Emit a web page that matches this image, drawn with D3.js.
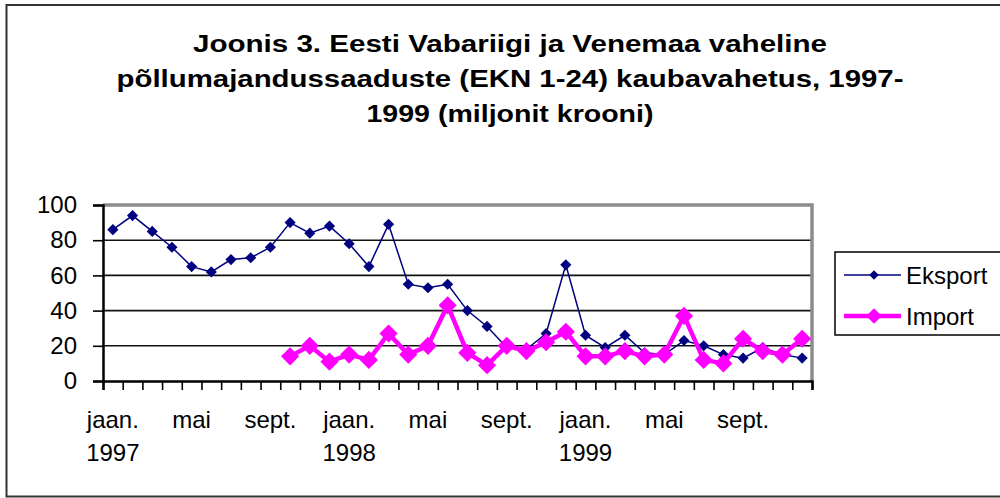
<!DOCTYPE html>
<html>
<head>
<meta charset="utf-8">
<script src="https://cdn.jsdelivr.net/npm/d3@7"></script>
<style>
  body { margin: 0; background: #fff; }
  svg { display: block; font-family: "Liberation Sans", Arial, sans-serif; }
</style>
</head>
<body>
<svg id="chart" width="1000" height="498"></svg>
<script>
// title lines
var titleLines = [
  "Joonis 3. Eesti Vabariigi ja Venemaa vaheline",
  "põllumajandussaaduste (EKN 1-24) kaubavahetus, 1997-",
  "1999 (miljonit krooni)"
];
var titleWidths = [634, 787, 287];

var years = ["1997", "1998", "1999"];
var months = ["jaan.", "veebr.", "märts", "apr.", "mai", "juuni", "juuli", "aug.", "sept.", "okt.", "nov.", "dets."];
var shownMonths = ["jaan.", "mai", "sept."];
var yTicks = [0, 20, 40, 60, 80, 100];

var seriesNames = ["Eksport", "Import"];
var eksport = [86, 94, 85, 76, 65, 62, 69, 70, 76, 90, 84, 88,
               78, 65, 89, 55, 53, 55, 40, 31, 19, 18, 27, 66,
               26, 19, 26, 16, 15, 23, 20, 15, 13, 19, 15, 13];
var importVals = [null, null, null, null, null, null, null, null, null, 14, 20, 11,
                  15, 12, 27, 15, 20, 43, 16, 9, 20, 17, 22, 28,
                  14, 14, 17, 14, 15, 37, 12, 10, 24, 17, 15, 24];

var categories = [];
years.forEach(function(yr) {
  months.forEach(function(m) { categories.push(yr + " " + m); });
});

var svg = d3.select("#chart");

// chart area border
svg.append("rect")
  .attr("x", 6.5).attr("y", 5)
  .attr("width", 1010).attr("height", 491.5)
  .attr("fill", "#fff")
  .attr("stroke", "#333")
  .attr("stroke-width", 2);

// title
svg.append("g").selectAll("text").data(titleLines).enter().append("text")
  .attr("x", 510)
  .attr("y", (d, i) => 51.5 + i * 35)
  .attr("text-anchor", "middle")
  .attr("font-size", "23px")
  .attr("font-weight", "bold")
  .attr("textLength", (d, i) => titleWidths[i])
  .attr("lengthAdjust", "spacingAndGlyphs")
  .attr("fill", "#000")
  .text(d => d);

var plotL = 103, plotR = 812, plotT = 205, plotB = 381;

var x = d3.scaleBand().domain(categories).range([plotL, plotR]).paddingInner(0).paddingOuter(0);
var xEdge = d3.scaleLinear().domain([0, categories.length]).range([plotL, plotR]);
var y = d3.scaleLinear().domain([0, 100]).range([plotB, plotT]);

// gridlines
svg.append("g").selectAll("line").data(yTicks.filter(d => d > 0 && d < 100)).enter().append("line")
  .attr("x1", plotL).attr("x2", plotR)
  .attr("y1", d => y(d)).attr("y2", d => y(d))
  .attr("stroke", "#111")
  .attr("stroke-width", 1.6);

// plot border (grey top & right)
svg.append("path")
  .attr("d", "M" + plotL + "," + plotT + "H" + plotR + "V" + plotB)
  .attr("fill", "none")
  .attr("stroke", "#8c8c8c")
  .attr("stroke-width", 3.5);

// y axis
var yAxis = svg.append("g")
  .attr("transform", "translate(" + plotL + ",0)")
  .call(d3.axisLeft(y).tickValues(yTicks).tickSize(10).tickPadding(16));
yAxis.select(".domain").attr("stroke", "#000").attr("stroke-width", 2.5);
yAxis.selectAll(".tick line").attr("stroke", "#000").attr("stroke-width", 1.6);
yAxis.selectAll(".tick text")
  .attr("font-size", "24px")
  .attr("font-family", "Liberation Sans, Arial, sans-serif")
  .attr("fill", "#000");

// x axis ticks at category edges
var xAxis = svg.append("g")
  .attr("transform", "translate(0," + plotB + ")")
  .call(d3.axisBottom(xEdge).tickValues(d3.range(categories.length + 1)).tickSize(9).tickFormat(""));
xAxis.select(".domain").attr("stroke", "#000").attr("stroke-width", 2.5);
xAxis.selectAll(".tick line").attr("stroke", "#000").attr("stroke-width", 1.6);

// x labels
var labelled = categories.filter(c => shownMonths.indexOf(c.split(" ")[1]) >= 0);
var lab = svg.append("g").selectAll("text").data(labelled).enter().append("text")
  .attr("x", d => x(d) + x.bandwidth() / 2)
  .attr("y", 428)
  .attr("text-anchor", "middle")
  .attr("font-size", "24px")
  .attr("fill", "#000");
lab.append("tspan").text(d => d.split(" ")[1]);
lab.filter(d => d.split(" ")[1] === "jaan.").append("tspan")
  .attr("x", d => x(d) + x.bandwidth() / 2)
  .attr("dy", 33)
  .text(d => d.split(" ")[0]);

// series
var cx = (d, i) => x(categories[i]) + x.bandwidth() / 2;

var lineGen = d3.line()
  .defined(d => d != null)
  .x(cx)
  .y(d => y(d));

var diamond = function(size) {
  return d3.symbol().type(d3.symbolSquare).size(size)();
};

svg.append("path")
  .datum(eksport)
  .attr("d", lineGen)
  .attr("fill", "none")
  .attr("stroke", "#000080")
  .attr("stroke-width", 1.5);

svg.append("g").selectAll("path").data(eksport).enter().append("path")
  .attr("d", diamond(62))
  .attr("transform", (d, i) => "translate(" + cx(d, i) + "," + y(d) + ") rotate(45)")
  .attr("fill", "#000080");

svg.append("path")
  .datum(importVals)
  .attr("d", lineGen)
  .attr("fill", "none")
  .attr("stroke", "#ff00ff")
  .attr("stroke-width", 4.5)
  .attr("stroke-linejoin", "round");

svg.append("g").selectAll("path")
  .data(importVals.map((v, i) => ({v: v, i: i})).filter(d => d.v != null))
  .enter().append("path")
  .attr("d", diamond(165))
  .attr("transform", d => "translate(" + cx(d.v, d.i) + "," + y(d.v) + ") rotate(45)")
  .attr("fill", "#ff00ff");

// legend
var legend = svg.append("g");
legend.append("rect")
  .attr("x", 835).attr("y", 252)
  .attr("width", 200).attr("height", 83)
  .attr("fill", "#fff")
  .attr("stroke", "#000")
  .attr("stroke-width", 1.5);

var legendStyle = [
  {color: "#000080", width: 1.5, size: 45},
  {color: "#ff00ff", width: 4.5, size: 120}
];
var item = legend.selectAll("g.item").data(seriesNames).enter().append("g")
  .attr("class", "item")
  .attr("transform", (d, i) => "translate(0," + (275 + i * 41) + ")");
item.append("line")
  .attr("x1", 844).attr("x2", 901)
  .attr("stroke", (d, i) => legendStyle[i].color)
  .attr("stroke-width", (d, i) => legendStyle[i].width);
item.append("path")
  .attr("d", (d, i) => diamond(legendStyle[i].size))
  .attr("transform", "translate(874,0) rotate(45)")
  .attr("fill", (d, i) => legendStyle[i].color);
item.append("text")
  .attr("x", 906)
  .attr("y", 8.5)
  .attr("font-size", "24px")
  .attr("fill", "#000")
  .text(d => d);
</script>
</body>
</html>
